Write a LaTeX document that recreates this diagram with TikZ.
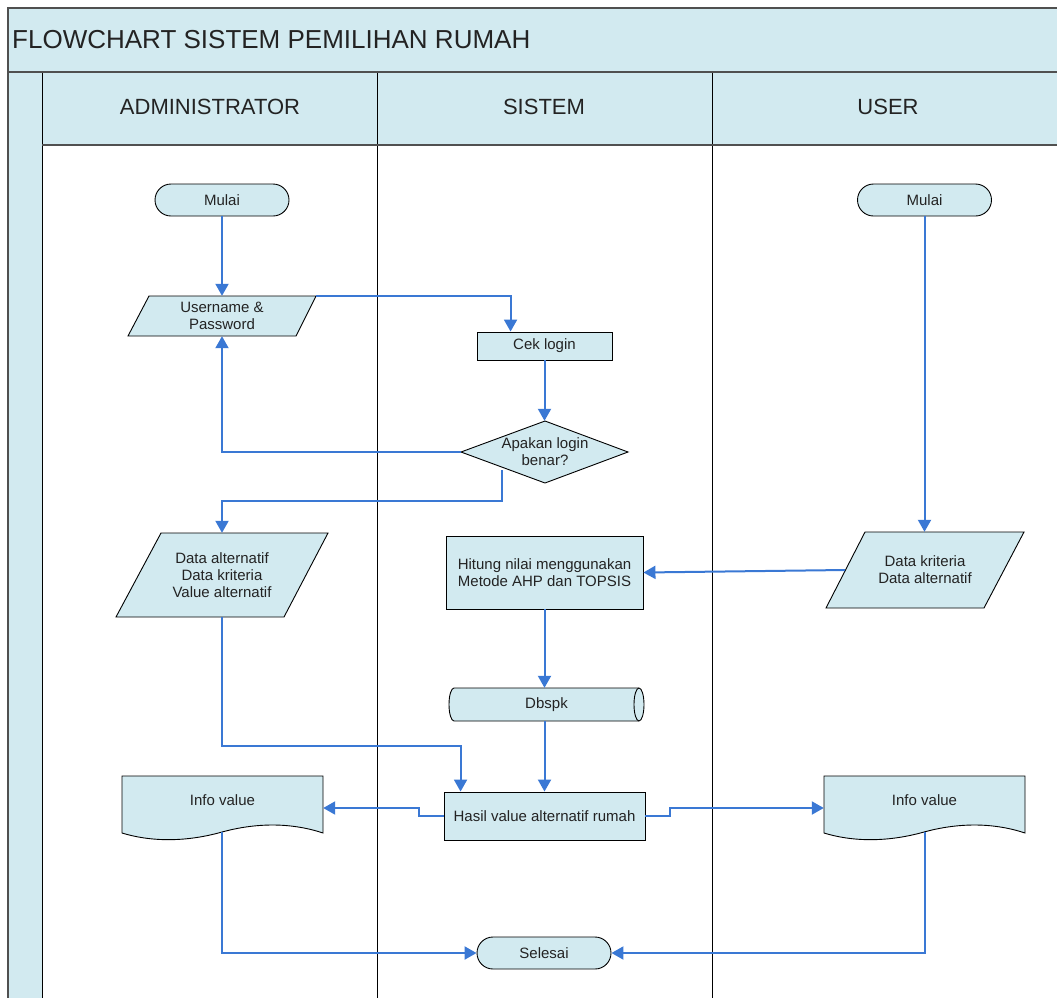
\documentclass[tikz,border=0pt]{standalone}
\usepackage{fontspec}
\setmainfont{Liberation Sans}
\usetikzlibrary{arrows.meta,calc}
\definecolor{fillblue}{RGB}{210,234,240}
\definecolor{lineblue}{RGB}{58,120,212}
\definecolor{txt}{RGB}{35,35,35}
\definecolor{frame}{RGB}{80,80,80}
\tikzset{
  nodefont/.style={font=\fontsize{15}{17}\selectfont, text=txt},
  box/.style={draw=black, line width=0.9pt, fill=fillblue, inner sep=0pt, align=center, nodefont},
  term/.style={box, rounded corners=16pt, minimum width=134pt, minimum height=32pt},
  proc/.style={box},
  lbl/.style={inner sep=0pt, align=center, nodefont},
  shp/.style={draw=black, line width=0.9pt, fill=fillblue},
  flow/.style={draw=lineblue, line width=2pt, -{Triangle[length=12pt,width=13pt]}},
  lane/.style={draw=black, line width=1pt},
  band/.style={draw=frame, line width=2pt},
  header/.style={inner sep=0pt, font=\fontsize{22}{26}\selectfont, text=txt},
  docshape/.pic={\draw[shp] (-100.5,-28.5) -- (100.5,-28.5) -- (100.5,28.5)
      .. controls (67.5,17.5) and (32.5,18.5) .. (-0.5,27.5)
      .. controls (-32.5,36.5) and (-67.5,38.5) .. (-100.5,28.5) -- cycle;}
}
\begin{document}
\begin{tikzpicture}[x=1pt,y=-1pt]
\useasboundingbox (0,0) rectangle (1057,997);
\clip (0,0) rectangle (1057,997);
% swimlane frame
\fill[fillblue] (8,8) rectangle (1080,72);
\fill[fillblue] (8,72) rectangle (42,1010);
\fill[fillblue] (42,72) rectangle (1080,145);
\draw[lane] (42,72) -- (42,1010);
\draw[lane] (377,72) -- (377,1010);
\draw[lane] (712,72) -- (712,1010);
\draw[band] (42,145) -- (1080,145);
\draw[band] (8,72) -- (1080,72);
\draw[draw=frame, line width=1.5pt] (8,1010) -- (8,8) -- (1080,8);
\node[anchor=west, inner sep=0pt, font=\fontsize{26}{30}\selectfont, text=txt] (title) at (12,40) {FLOWCHART SISTEM PEMILIHAN RUMAH};
\node[header] (hadm) at (210,107) {ADMINISTRATOR};
\node[header] (hsys) at (544,107) {SISTEM};
\node[header] (husr) at (888,107) {USER};

% administrator lane
\node[term] (m1) at (222,200) {Mulai};
\draw[shp] (149,296) -- (316,296) -- (296,336) -- (128,336) -- cycle;
\node[lbl, minimum width=188pt, minimum height=40pt] (up) at (222,316) {Username \&\\Password};
\draw[shp] (161,533) -- (328,533) -- (284,617) -- (116,617) -- cycle;
\node[lbl, minimum width=212pt, minimum height=84pt] (da) at (222,575) {Data alternatif\\Data kriteria\\Value alternatif};
\pic at (222.5,804.5) {docshape};
\node[lbl, minimum width=201pt, minimum height=57pt] (info1) at (222.5,804.5) {\raisebox{4.5pt}[\height][\depth]{Info value}};

% sistem lane
\node[proc, minimum width=135pt, minimum height=28pt] (cek) at (544.5,346) {Cek login};
\draw[shp] (545,421) -- (628,452) -- (545,483) -- (461,452) -- cycle;
\node[lbl, minimum width=167pt, minimum height=62pt] (dm) at (545,452) {Apakan login\\benar?};
\node[proc, minimum width=197pt, minimum height=73pt] (hit) at (544.5,572.5) {Hitung nilai menggunakan\\Metode AHP dan TOPSIS};
\draw[shp] (454,688) -- (639,688) arc[start angle=-90, end angle=90, x radius=5, y radius=16.5]
  -- (454,721) arc[start angle=90, end angle=270, x radius=5, y radius=16.5] -- cycle;
\draw[black, line width=0.9pt] (639,688) arc[start angle=-90, end angle=-270, x radius=5, y radius=16.5];
\node[lbl, minimum width=195pt, minimum height=33pt] (db) at (546.5,704.5) {Dbspk};
\node[proc, minimum width=201pt, minimum height=48pt] (hs) at (544.5,816) {Hasil value alternatif rumah};
\node[term] (sel) at (544,953) {Selesai};

% user lane
\node[term] (m2) at (924.5,200) {Mulai};
\draw[shp] (865,532) -- (1024,532) -- (984,608) -- (826,608) -- cycle;
\node[lbl, minimum width=198pt, minimum height=76pt] (du) at (925,570) {Data kriteria\\Data alternatif};
\pic at (924.5,804.5) {docshape};
\node[lbl, minimum width=201pt, minimum height=57pt] (info2) at (924.5,804.5) {\raisebox{4.5pt}[\height][\depth]{Info value}};

% connectors
\draw[flow] (m1.south) -- (up.north);
\draw[flow] (up.north east) -| ($(cek.north west)+(34,0)$);
\draw[flow] (cek.south) -- (cek.south |- dm.north);
\draw[flow] (dm.west) -| (up.south);
\draw[flow] ($(dm.south)+(-43,-13)$) |- ($(da.north)+(0,-32)$) -- (da.north);
\draw[flow] (m2.south) -- (m2.south |- du.north);
\draw[flow] ($(du.west)+(19,0)$) -- (hit.east);
\draw[flow] (hit.south) -- (hit.south |- db.north);
\draw[flow] (da.south) -- ($(da.south)+(0,129)$) -| ($(hs.north west)+(17,0)$);
\draw[flow] (hit.south |- db.south) -- (hit.south |- hs.north);
\draw[flow] (hs.west) -- ++(-25,0) |- ($(info1.east)+(0,3.5)$);
\draw[flow] (hs.east) -- ++(25,0) |- ($(info2.west)+(0,3.5)$);
\draw[flow] ($(info1.south)+(-0.5,-1)$) |- (sel.west);
\draw[flow] ($(info2.south)+(0,-1)$) |- (sel.east);
\end{tikzpicture}
\end{document}
